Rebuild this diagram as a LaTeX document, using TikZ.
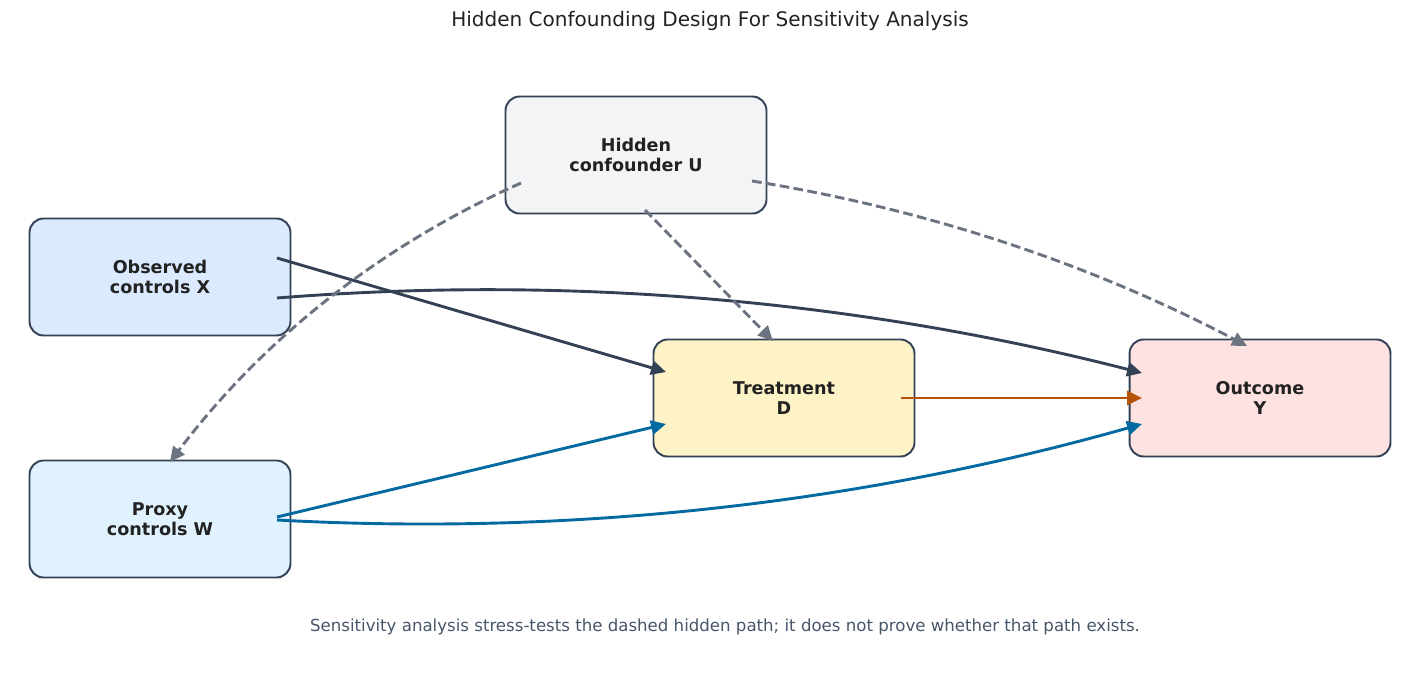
\documentclass[tikz,border=0pt]{standalone}
\usepackage{fontspec}
\setmainfont{DejaVu Sans}
\usetikzlibrary{arrows.meta}
\definecolor{frame}{HTML}{334155}
\definecolor{ink}{HTML}{222222}
\definecolor{note}{HTML}{475569}
\definecolor{hidden}{HTML}{6B7280}
\definecolor{proxy}{HTML}{0369A1}
\definecolor{effect}{HTML}{B45309}
\definecolor{fillU}{HTML}{F3F4F6}
\definecolor{fillX}{HTML}{DBEAFE}
\definecolor{fillW}{HTML}{E0F2FE}
\definecolor{fillD}{HTML}{FEF3C7}
\definecolor{fillY}{HTML}{FEE2E2}

\begin{document}
\begin{tikzpicture}[x=0.02cm,y=-0.02cm]
    \tikzstyle{box}=[draw=frame,line width=1.1pt,rounded corners=8pt,
        minimum width=5.22cm,minimum height=2.34cm,align=center,
        text=ink,font=\fontsize{10}{11.6}\selectfont\bfseries]
    \tikzstyle{link}=[line width=1.65pt,-{Triangle[length=8.5pt,width=8pt]}]
    \tikzstyle{hid}=[link,draw=hidden,dash pattern=on 5.5pt off 2.5pt]
    \useasboundingbox (0,0) rectangle (1420,676);
    \draw node[text=ink,font=\fontsize{11.4}{13}\selectfont](title)at(710,21){Hidden Confounding Design For Sensitivity Analysis}
          node[box,fill=fillU](u)at(636,155){Hidden\\confounder U}
          node[box,fill=fillX](x)at(160,277){Observed\\controls X}
          node[box,fill=fillW](w)at(160,519){Proxy\\controls W}
          node[box,fill=fillD](d)at(784,398){Treatment\\D}
          node[box,fill=fillY](y)at(1260,398){Outcome\\Y}
          node[text=note,font=\fontsize{9.45}{11}\selectfont](caption)at(725,627){Sensitivity analysis stress-tests the dashed hidden path; it does not prove whether that path exists.};
    % observed controls
    \draw[link,draw=frame]([shift={(117,-19)}]x.center)--([shift={(-118,-26)}]d.center);
    \draw[link,draw=frame]([shift={(117,21)}]x.center)
        .. controls +(292,-23) and +(-285,-73) .. ([shift={(-118,-25)}]y.center);
    % proxy controls
    \draw[link,draw=proxy]([shift={(117,-2)}]w.center)--([shift={(-118,26)}]d.center);
    \draw[link,draw=proxy]([shift={(117,1)}]w.center)
        .. controls +(294,16) and +(-283,80) .. ([shift={(-118,26)}]y.center);
    % treatment effect
    \draw[link,draw=effect]([shift={(117,0)}]d.center)--([shift={(-118,0)}]y.center);
    % hidden paths
    \draw[hid]([shift={(-115,28)}]u.center)
        .. controls +(-141,63) and +(93,-123) .. ([shift={(10,-57)}]w.center);
    \draw[hid]([shift={(9,55)}]u.center)--([shift={(-11,-57)}]d.center);
    \draw[hid]([shift={(116,26)}]u.center)
        .. controls +(174,28) and +(-156,-82) .. ([shift={(-13,-52)}]y.center);
\end{tikzpicture}
\end{document}
